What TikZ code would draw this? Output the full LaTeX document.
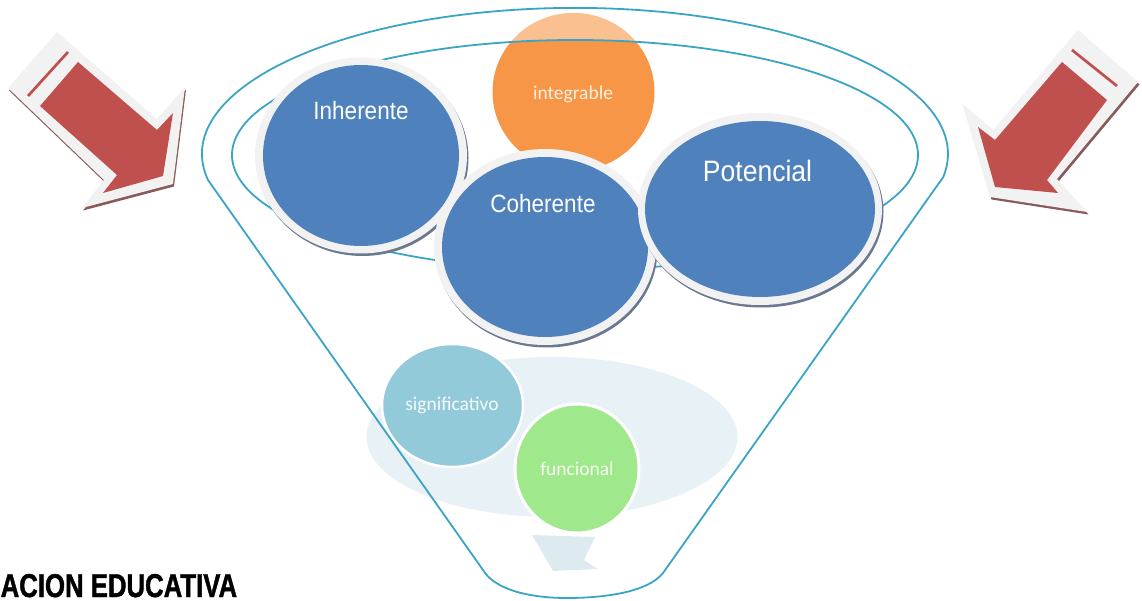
\documentclass[tikz,border=0pt]{standalone}
\usepackage{fontspec}
\setmainfont{Liberation Sans}
\newfontfamily\narrowf[FakeStretch=0.9]{Liberation Sans}
\newfontfamily\narrowbf[FakeStretch=0.78,FakeBold=1.2]{Liberation Sans Bold}
\newfontfamily\calib{Carlito}
\definecolor{fblue}{HTML}{4F81BD}
\definecolor{ringgray}{HTML}{F2F2F2}
\definecolor{bshadow}{HTML}{6A7890}
\definecolor{forange}{HTML}{F79646}
\definecolor{arrowred}{HTML}{C0504D}
\definecolor{arrowgray}{HTML}{F2F2F2}
\definecolor{arrowshadow}{HTML}{8A5A5A}
\definecolor{funcol}{HTML}{3AA4C4}
\definecolor{sigblue}{HTML}{93CAD9}
\definecolor{fgreen}{HTML}{A0E88C}
\definecolor{paleblue}{HTML}{E8F1F5}
\definecolor{palearrow}{HTML}{DDEBF1}
\begin{document}
\begin{tikzpicture}[x=1pt,y=-1pt,
  funnel/.style={draw=funcol, line width=1.8pt},
  bigtxt/.style={text=white, font=\narrowf\fontsize{25}{25}\selectfont, anchor=base, inner sep=0pt},
  smalltxt/.style={text=white, text opacity=0.9, font=\calib\fontsize{19.5}{19.5}\selectfont, anchor=base, inner sep=0pt}]
\useasboundingbox (0,0) rectangle (1142,601);

% ---------- left arrow ----------
\begin{scope}[shift={(1,2.5)}]
\fill[arrowshadow] (8,88) -- (57,32) -- (157,119) -- (185,87) -- (173,184) -- (82,208) -- (104,180) -- cycle;
\end{scope}
\fill[arrowgray] (8,88) -- (57,32) -- (157,119) -- (185,87) -- (173,184) -- (82,208) -- (104,180) -- cycle;
\fill[arrowred] (40,106) -- (78,62) -- (157,130) -- (173,113) -- (163,176) -- (103,193) -- (117,175) -- cycle;
\draw[arrowred, line width=2.7pt] (28,96) -- (68,52);

% ---------- right arrow ----------
\begin{scope}[shift={(1.5,2.5)}]
\fill[arrowshadow] (1078,30) -- (1138,82) -- (1057,179) -- (1087,212) -- (990,197) -- (962,103) -- (993,130) -- cycle;
\end{scope}
\fill[arrowgray] (1078,30) -- (1138,82) -- (1057,179) -- (1087,212) -- (990,197) -- (962,103) -- (993,130) -- cycle;
\fill[arrowred] (1062,62) -- (1107,100) -- (1047,180) -- (1058,193) -- (995,187) -- (978,127) -- (995,140) -- cycle;
\draw[arrowred, line width=2.7pt] (1072,50) -- (1117,86);

% ---------- lower group ----------
\fill[paleblue] (552,437) ellipse [x radius=185.5, y radius=80];
\fill[palearrow] (532,535) -- (595,537) -- (584,560) -- (598,569) -- (553,571) -- cycle;
\fill[sigblue, draw=white, line width=2.5pt] (452.5,405.5) ellipse [x radius=70.5, y radius=61.5];
\fill[fgreen, draw=white, line width=3pt] (577,468.5) ellipse [x radius=62, y radius=64.5];
\node[smalltxt] (sig) at (452,410) {significativo};
\node[smalltxt] (fun) at (577,475) {funcional};

% ---------- orange ----------
\fill[forange] (573.5,92) ellipse [x radius=81, y radius=79];
\begin{scope}
\clip (573.5,92) ellipse [x radius=81, y radius=79];
\fill[white, opacity=0.4, even odd rule] (0,0) rectangle (1142,601) (575,155) ellipse [x radius=343, y radius=115];
\end{scope}
\node[smalltxt, text opacity=0.85] (integ) at (573,100) {integrable};

% ---------- funnel ----------
\draw[funnel, line join=round] (483,570) -- (208,180)
  arc[start angle=169.7, end angle=369.1, x radius=373, y radius=146]
  -- (663,573) .. controls (648,592) and (605,598) .. (567,598)
  .. controls (530,598) and (495,590) .. (483,570) -- cycle;
\draw[funnel] (575,155) ellipse [x radius=343, y radius=115];

% ---------- blue circles ----------
% Inherente
\fill[bshadow] (362.5,158) ellipse [x radius=106, y radius=98];
\fill[ringgray] (361,155.5) ellipse [x radius=106, y radius=98];
\fill[fblue] (361,155.5) ellipse [x radius=98, y radius=90.5];
\node[bigtxt] (inh) at (361,120) {Inherente};
% Coherente
\fill[bshadow] (546.5,249.5) ellipse [x radius=111, y radius=98];
\fill[ringgray] (545,247) ellipse [x radius=111, y radius=98];
\fill[fblue] (545,247) ellipse [x radius=103, y radius=90];
\node[bigtxt] (coh) at (543,213) {Coherente};
% Potencial
\fill[bshadow] (761.5,211.5) ellipse [x radius=122, y radius=96];
\fill[ringgray] (760,209) ellipse [x radius=122, y radius=96];
\fill[fblue] (760,209) ellipse [x radius=115, y radius=88];
\node[bigtxt, font=\narrowf\fontsize{29.5}{29.5}\selectfont] (pot) at (757.5,182) {Potencial};

% ---------- bottom text ----------
\node[anchor=base west, inner sep=0pt, font=\narrowbf\fontsize{33}{33}\selectfont] (title) at (0.5,597) {ACION EDUCATIVA};
\end{tikzpicture}
\end{document}
